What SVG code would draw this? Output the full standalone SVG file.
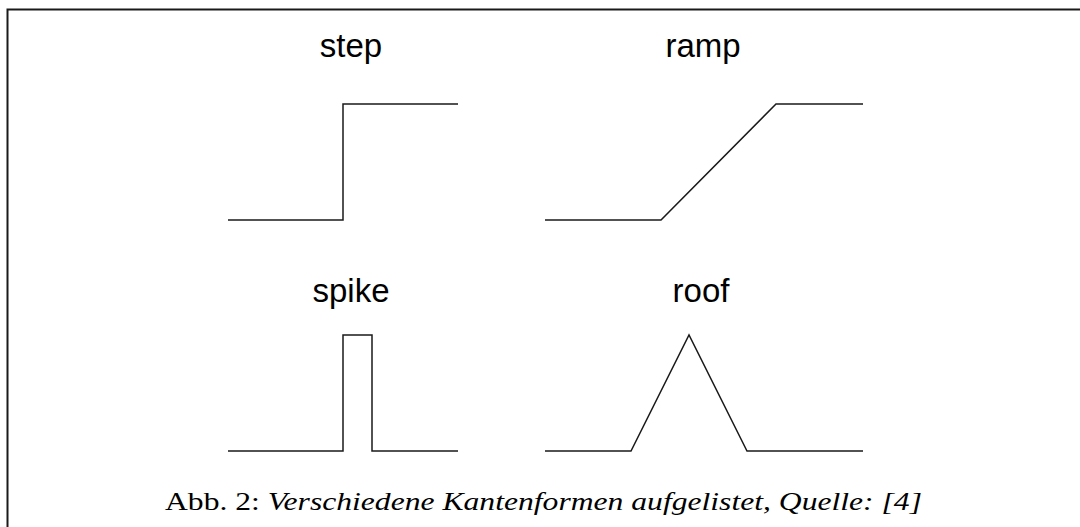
<svg xmlns="http://www.w3.org/2000/svg" width="1080" height="527" viewBox="0 0 1080 527">
  <style>
    .frame { fill: none; stroke: #1a1a1a; stroke-width: 2; }
    .edge { fill: none; stroke: #1a1a1a; stroke-width: 1.5; stroke-linejoin: miter; }
    .label { font-family: "Liberation Sans", Arial, sans-serif; font-size: 33px; fill: #000; text-anchor: middle; }
    .caption { font-family: "Liberation Serif", "Times New Roman", serif; font-size: 26px; fill: #000; }
  </style>
  <rect width="1080" height="527" fill="#fff"/>
  <!-- outer frame: open at bottom and right -->
  <path class="frame" d="M7.5,527 V9.5 H1080"/>

  <g id="step">
    <text class="label" x="351" y="57">step</text>
    <path class="edge" d="M228,220 H343 V104 H458"/>
  </g>
  <g id="ramp">
    <text class="label" x="703" y="57">ramp</text>
    <path class="edge" d="M545,220 H661 L776,104 H863"/>
  </g>
  <g id="spike">
    <text class="label" x="351" y="302">spike</text>
    <path class="edge" d="M228,451 H343 V335 H372 V451 H458"/>
  </g>
  <g id="roof">
    <text class="label" x="701" y="302">roof</text>
    <path class="edge" d="M545,451 H631 L689,335 L747,451 H863"/>
  </g>

  <text class="caption" x="165" y="510" textLength="757" lengthAdjust="spacingAndGlyphs">Abb. 2: <tspan font-style="italic">Verschiedene Kantenformen aufgelistet, Quelle: [4]</tspan></text>
</svg>
